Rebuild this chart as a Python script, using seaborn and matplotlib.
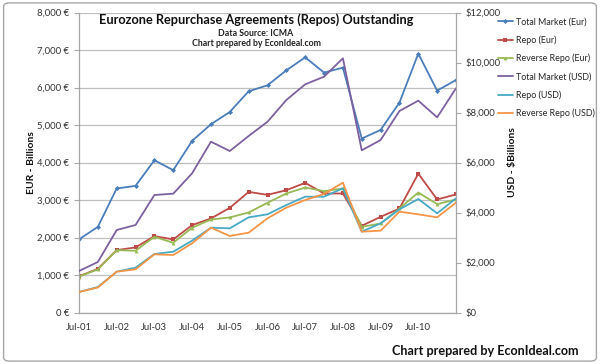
import numpy as np
import pandas as pd
import matplotlib
matplotlib.use("Agg")
import matplotlib.pyplot as plt
from matplotlib.patches import FancyBboxPatch
from matplotlib.ticker import FuncFormatter
import seaborn as sns

# ---- data (billions), semi-annual surveys Jun-01 .. Jun-11 ----
tick_labels = ["Jul-01", "Jul-02", "Jul-03", "Jul-04", "Jul-05",
               "Jul-06", "Jul-07", "Jul-08", "Jul-09", "Jul-10"]
total_eur = [1950, 2285, 3307, 3377, 4060, 3795, 4575, 5020, 5348, 5899, 6059,
             6458, 6804, 6397, 6530, 4639, 4868, 5598, 6903, 5917, 6200]
repo_eur = [963, 1166, 1664, 1736, 2037, 1949, 2330, 2508, 2791, 3217, 3137,
            3262, 3457, 3174, 3174, 2312, 2551, 2774, 3702, 3015, 3148]
rev_eur = [960, 1148, 1664, 1646, 2019, 1860, 2259, 2481, 2535, 2668, 2925,
           3174, 3334, 3236, 3307, 2285, 2374, 2774, 3200, 2889, 3015]
total_usd = [1660, 2020, 3300, 3500, 4700, 4753, 5567, 6833, 6460, 7060, 7630,
             8500, 9127, 9433, 10167, 6487, 6900, 8060, 8473, 7807, 8967]
repo_usd = [820, 1020, 1633, 1793, 2340, 2433, 2873, 3393, 3367, 3807, 3927,
            4300, 4633, 4633, 4967, 3233, 3567, 4127, 4540, 3967, 4567]
rev_usd = [820, 1000, 1633, 1727, 2327, 2300, 2767, 3393, 3060, 3193, 3767,
           4193, 4500, 4740, 5193, 3233, 3273, 4033, 3927, 3807, 4393]

period = list(range(len(total_eur)))
df = pd.DataFrame({
    "period": period,
    "Total Market (Eur)": total_eur,
    "Repo (Eur)": repo_eur,
    "Reverse Repo (Eur)": rev_eur,
    "Total Market (USD)": total_usd,
    "Repo (USD)": repo_usd,
    "Reverse Repo (USD)": rev_usd,
})

sns.set_style("white")
plt.rcParams["font.family"] = ["Lato", "DejaVu Sans"]

fig = plt.figure(figsize=(6, 3.64), dpi=100)
W, H = 600, 364
L, R, T, B = 79, 456, 12.5, 312.5
ax = fig.add_axes([L / W, 1 - B / H, (R - L) / W, (B - T) / H])
ax2 = ax.twinx()

# border of chart area
fig.patches.append(FancyBboxPatch((0.006, 0.008), 0.988, 0.984,
                                  boxstyle="round,pad=0,rounding_size=0.01",
                                  transform=fig.transFigure, fill=False,
                                  edgecolor="#a6a6a6", linewidth=1.0))

eur_styles = [("Total Market (Eur)", "#4A7EBB", "D", 2.6),
              ("Repo (Eur)", "#BE4B48", "s", 2.3),
              ("Reverse Repo (Eur)", "#98B954", "^", 2.8)]
usd_styles = [("Total Market (USD)", "#7D60A0", None),
              ("Repo (USD)", "#46AAC5", None),
              ("Reverse Repo (USD)", "#F69546", None)]

for name, col, mk, ms in eur_styles:
    sns.lineplot(data=df, x="period", y=name, ax=ax, color=col, marker=mk,
                 markersize=ms, markeredgewidth=0, linewidth=1.3, label=name)
for name, col, mk in usd_styles:
    sns.lineplot(data=df, x="period", y=name, ax=ax2, color=col,
                 linewidth=1.3, label=name)

h1, l1 = ax.get_legend_handles_labels()
h2, l2 = ax2.get_legend_handles_labels()
for a in (ax, ax2):
    if a.get_legend() is not None:
        a.get_legend().remove()

ax.set_xlim(0, 20)
ax.set_ylim(0, 8000)
ax2.set_ylim(0, 12000)
ax.set_xticks(list(range(0, 20, 2)))
ax.set_xticklabels(tick_labels)
ax.set_yticks(range(0, 8001, 1000))
ax2.set_yticks(range(0, 12001, 2000))
ax.yaxis.set_major_formatter(FuncFormatter(lambda v, p: f"{int(v):,} €"))
ax2.yaxis.set_major_formatter(FuncFormatter(lambda v, p: f"${int(v):,}"))

ax.grid(axis="y", color="#bfbfbf", linewidth=0.9)
ax.grid(axis="x", visible=False)
ax2.grid(False)
ax.set_axisbelow(True)

for a in (ax, ax2):
    a.spines["top"].set_visible(False)
    for s in ("left", "right", "bottom"):
        a.spines[s].set_color("#a6a6a6")
        a.spines[s].set_linewidth(0.9)
ax.spines["right"].set_visible(False)
ax2.spines["left"].set_visible(False)
ax2.spines["bottom"].set_visible(False)

tick_kw = dict(labelsize=6.8, colors="#a6a6a6", labelcolor="#333333",
               length=3.5, width=0.8, direction="out")
ax.tick_params(axis="both", **tick_kw)
ax2.tick_params(axis="y", **tick_kw)
ax.tick_params(axis="x", pad=4)

ax.set_xlabel("")
ax.set_ylabel("EUR - Billions", fontsize=7.5, fontweight="bold", color="#111111")
ax2.set_ylabel("USD - $Billions", fontsize=7.5, fontweight="bold", color="#111111")
ax.yaxis.set_label_coords((36 - L) / (R - L), 0.5)
ax2.yaxis.set_label_coords((508 - L) / (R - L), 0.5)

fig.legend(h1 + h2, l1 + l2, loc="upper left",
           bbox_to_anchor=(494 / W, 1 - 14 / H), frameon=False,
           fontsize=6.4, handlelength=1.75, handletextpad=0.3,
           labelspacing=1.0, borderaxespad=0)

cx = 256 / W
fig.text(cx, 1 - 20 / H, "Eurozone Repurchase Agreements (Repos) Outstanding",
         ha="center", va="center", fontsize=9.2, fontweight="bold", color="#111111")
fig.text(cx, 1 - 33 / H, "Data Source: ICMA", ha="center", va="center",
         fontsize=6.3, fontweight="bold", color="#222222")
fig.text(cx, 1 - 43.5 / H, "Chart prepared by EconIdeal.com", ha="center",
         va="center", fontsize=6.3, fontweight="bold", color="#222222")
fig.text(579 / W, 1 - 351 / H, "Chart prepared by EconIdeal.com", ha="right",
         va="center", fontsize=9.1, fontweight="bold", color="#111111")

fig.savefig("out.png", dpi=100)
